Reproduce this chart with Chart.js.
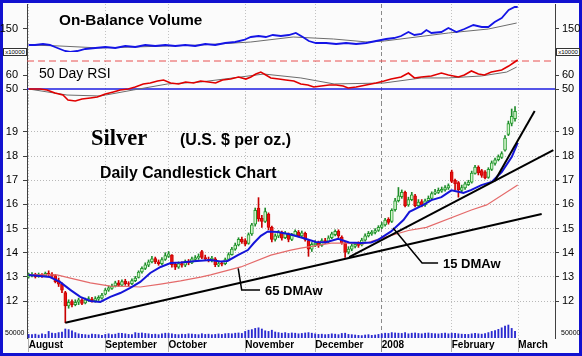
<!DOCTYPE html>
<html><head><meta charset="utf-8">
<script src="https://cdn.jsdelivr.net/npm/chart.js"></script>
<style>
html,body{margin:0;padding:0;}
body{width:582px;height:356px;background:#1212d0;position:relative;overflow:hidden;font-family:Arial,"Liberation Sans",sans-serif;}
#inner{position:absolute;left:3px;top:3px;width:576px;height:350px;background:#fbfbfb;}
canvas{position:absolute;left:0;}
.t{position:absolute;white-space:nowrap;color:#000;line-height:1;}
.box{position:absolute;border:1px solid #333;background:#fff;font-size:6px;line-height:6px;height:6px;width:22px;text-align:center;color:#000;}
</style></head><body>
<div id="inner"></div>
<canvas id="cObv" width="582" height="48" style="top:4px"></canvas>
<canvas id="cRsi" width="582" height="52" style="top:52px"></canvas>
<canvas id="cPrice" width="582" height="257" style="top:95px"></canvas>

<div class="t" style="left:59px;top:12px;font-size:15.3px;font-weight:bold;">On-Balance Volume</div>
<div class="t" style="left:39px;top:66px;font-size:14px;">50 Day RSI</div>
<div class="t" style="left:91px;top:127px;font-size:22.5px;font-weight:bold;font-family:'Liberation Serif','Times New Roman',serif;">Silver</div>
<div class="t" style="left:180px;top:132px;font-size:16px;font-weight:bold;">(U.S. $ per oz.)</div>
<div class="t" style="left:100px;top:165px;font-size:15.8px;font-weight:bold;">Daily Candlestick Chart</div>
<div class="t" style="left:265px;top:284px;font-size:13px;font-weight:bold;">65 DMAw</div>
<div class="t" style="left:443px;top:257px;font-size:13px;font-weight:bold;">15 DMAw</div>
<div class="box" style="left:3px;top:48px;">x10000</div>
<div class="box" style="left:556px;top:48px;">x10000</div>
<div class="t" style="left:5px;top:329px;font-size:7px;">50000</div>
<div class="t" style="left:561px;top:329px;font-size:7px;">50000</div>

<script>
// ---------- data ----------
const monthStarts = [0, 23, 42, 65, 86, 106, 127, 147];
const monthLabels = ['August','September','October','November','December','2008','February','March'];

const opens = [13.00,13.05,13.10,13.02,13.10,13.05,13.15,13.10,13.05,12.85,
12.70,12.35,11.80,11.98,11.85,11.95,12.05,11.92,12.02,12.08,
12.00,12.08,12.12,12.28,12.45,12.52,12.62,12.75,12.66,12.82,
12.72,12.72,12.84,12.98,13.20,13.35,13.48,13.62,13.76,13.62,
13.55,13.72,13.85,13.90,13.52,13.40,13.55,13.48,13.62,13.58,
13.72,13.78,14.05,13.80,13.74,13.70,13.75,13.48,13.56,13.55,
13.72,13.92,14.15,14.32,14.55,14.50,14.38,14.78,15.18,15.85,
15.42,15.30,15.60,15.05,14.55,14.68,14.85,14.62,14.78,14.55,
14.72,14.85,14.70,14.80,14.50,14.15,14.32,14.42,14.30,14.50,
14.45,14.62,14.75,14.90,14.65,14.40,14.02,14.15,14.26,14.38,
14.32,14.52,14.70,14.78,14.84,14.92,15.05,15.15,15.38,15.30,
15.78,16.15,16.32,16.50,15.98,16.20,16.35,15.95,16.12,15.98,
16.15,16.25,16.45,16.50,16.55,16.60,16.68,17.35,17.00,16.90,
16.58,16.68,16.82,16.92,17.28,17.55,17.40,17.35,17.12,17.45,
17.70,17.85,17.95,18.25,18.90,19.35,19.55];

const highs = [13.15,13.18,13.15,13.16,13.14,13.20,13.25,13.18,13.10,12.95,
12.75,12.40,12.05,12.05,12.05,12.12,12.10,12.12,12.18,12.15,
12.18,12.22,12.32,12.52,12.62,12.70,12.82,12.85,12.88,12.90,
12.80,12.92,13.02,13.25,13.42,13.58,13.70,13.85,13.82,13.70,
13.80,14.00,14.05,13.92,13.58,13.62,13.62,13.70,13.72,13.82,
13.88,13.95,14.10,13.90,13.82,13.85,13.80,13.65,13.62,13.78,
14.00,14.22,14.40,14.62,14.65,14.58,14.82,15.22,15.85,16.28,
15.55,15.85,15.65,15.10,14.78,14.92,14.90,14.88,14.82,14.80,
14.95,14.92,14.90,14.85,14.55,14.42,14.50,14.48,14.58,14.60,
14.70,14.85,14.95,14.95,14.70,14.45,14.25,14.35,14.42,14.45,
14.60,14.78,14.88,14.92,15.00,15.12,15.25,15.42,15.45,15.82,
16.25,16.70,16.60,16.55,16.30,16.50,16.42,16.20,16.20,16.22,
16.35,16.52,16.62,16.68,16.72,16.78,16.85,17.42,17.05,16.95,
16.80,16.92,17.00,17.38,17.62,17.60,17.45,17.40,17.52,17.80,
17.92,18.05,18.18,18.85,19.45,19.95,20.05];

const lows = [12.95,13.00,12.95,12.98,12.98,13.02,13.05,12.98,12.75,12.60,
12.35,11.10,11.70,11.75,11.80,11.85,11.85,11.88,11.98,11.95,
11.95,12.02,12.08,12.25,12.40,12.48,12.58,12.60,12.62,12.65,
12.62,12.68,12.80,12.95,13.15,13.30,13.42,13.58,13.55,13.48,
13.50,13.68,13.80,13.40,13.30,13.35,13.40,13.42,13.50,13.55,
13.66,13.72,13.75,13.68,13.62,13.62,13.42,13.42,13.45,13.50,
13.68,13.90,14.10,14.28,14.38,14.28,14.35,14.72,15.10,15.30,
15.05,15.25,14.95,14.45,14.48,14.62,14.52,14.58,14.45,14.50,
14.68,14.65,14.62,14.48,13.85,14.05,14.25,14.22,14.26,14.38,
14.40,14.58,14.70,14.62,14.35,13.80,13.95,14.08,14.20,14.22,
14.28,14.48,14.65,14.72,14.78,14.88,15.00,15.10,15.18,15.25,
15.72,16.10,16.25,15.90,15.92,16.15,15.90,15.88,15.90,15.92,
16.10,16.20,16.40,16.45,16.50,16.55,16.62,16.90,16.60,16.30,
16.50,16.62,16.78,16.88,17.25,17.22,17.12,17.05,17.08,17.40,
17.62,17.80,17.90,18.20,18.85,19.25,19.45];

const closes = [13.05,13.10,13.00,13.10,13.05,13.15,13.12,13.05,12.80,12.70,
12.45,11.80,11.95,11.85,11.95,12.05,11.90,12.05,12.10,12.00,
12.10,12.15,12.25,12.45,12.55,12.62,12.75,12.65,12.80,12.72,
12.70,12.85,12.95,13.20,13.35,13.50,13.62,13.75,13.62,13.55,
13.72,13.88,13.95,13.50,13.40,13.55,13.48,13.62,13.58,13.75,
13.80,13.85,13.80,13.75,13.72,13.78,13.50,13.55,13.52,13.72,
13.92,14.15,14.32,14.55,14.45,14.35,14.75,15.15,15.75,15.40,
15.30,15.70,15.05,14.55,14.70,14.85,14.60,14.80,14.55,14.72,
14.88,14.70,14.82,14.55,14.15,14.35,14.40,14.30,14.50,14.45,
14.62,14.78,14.88,14.70,14.42,14.02,14.15,14.28,14.35,14.30,
14.52,14.70,14.80,14.85,14.92,15.05,15.15,15.35,15.25,15.75,
16.15,16.35,16.50,15.95,16.20,16.40,15.95,16.10,15.98,16.15,
16.25,16.45,16.52,16.58,16.62,16.70,16.78,16.95,16.85,16.60,
16.70,16.85,16.92,17.30,17.55,17.30,17.20,17.10,17.45,17.72,
17.85,17.98,18.10,18.75,19.35,19.65,19.85];

// volume, thousands of contracts
const volumeThousands = [30,28,32,25,35,30,55,40,38,45,50,75,70,60,45,35,30,28,25,32,30,28,22,
30,35,28,32,40,38,35,30,28,45,40,42,38,35,30,32,28,35,40,
38,35,30,28,32,30,35,33,30,28,36,30,32,28,30,34,30,36,38,35,40,42,38,
55,65,70,80,85,75,60,55,65,50,45,40,45,38,42,40,35,38,42,45,40,
35,30,32,28,30,35,32,28,38,40,30,28,25,22,20,25,28,22,25,30,
35,40,38,45,42,40,38,45,35,40,42,38,35,40,42,38,36,34,38,40,35,
40,38,35,32,30,30,35,38,35,32,36,45,55,62,72,85,100,108,80,55];

// 15-day weighted moving average
const ma15Idx = [0,6.4,9.4,12.5,15.5,18.5,21.5,24.5,27.5,30.5,33.5,36.5,39.6,42.6,45.6,49.5,54.6,57.6,59.7,62.8,65.8,67.6,69.7,71.8,74.8,78.7,82.6,86.2,89.3,92.9,96.2,99.8,102.8,104.9,108.8,112.5,114.3,118.5,120.9,123.9,126.9,129,130.5,132.9,135.9,139,142,145,146.8];
const ma15Val = [13.08,12.99,12.79,12.46,12.17,12.00,11.96,12.17,12.33,12.54,12.79,13.16,13.41,13.57,13.59,13.65,13.70,13.64,13.66,13.90,14.11,14.40,14.70,14.88,14.86,14.75,14.60,14.44,14.43,14.58,14.42,14.40,14.42,14.53,14.88,15.35,15.69,15.98,16.18,16.30,16.58,16.52,16.47,16.60,16.80,16.93,17.34,17.96,18.55];
// 65-day weighted moving average
const ma65Idx = [0,8.5,12.5,18.5,24.5,30.5,33.5,39.6,45.6,51.6,54.6,63.7,72.7,78.7,81.7,90.8,96.8,100.4,105.5,114,119.4,132.9,137.5,146.8];
const ma65Val = [13.08,13.08,12.95,12.75,12.62,12.60,12.58,12.70,12.83,12.99,13.08,13.41,13.90,14.11,14.19,14.40,14.40,14.36,14.58,14.92,15.05,15.77,15.98,16.80];

// trend lines: [startIdx, startPrice, endIdx, endPrice]
const trendLines = [[11,11.10,154,15.60],[96.2,13.82,157.5,18.25],[139.9,16.97,151.9,19.87]];
// label leader lines (index, price)
const callout65Idx = [62.9,63.95,69.45], callout65Val = [13.35,12.455,12.455];
const callout15Idx = [109.4,118.1,122.9], callout15Val = [15.02,13.57,13.57];

// On-Balance Volume (x10000)
const obvIdx = [0,1.9,4.3,6.4,7.9,9.4,10.9,12.5,14.6,17,20,23,26,29,32,35,38,41,44,47,50,53,56,59,62,64.6,66.7,69,71.2,73.3,75.7,78.1,80.2,82.3,84.1,86.2,89.3,92.3,95.3,98.3,101.3,104.3,107.3,109.7,111.8,114,115.8,117.9,119.4,120.9,123.9,126,128.4,130.8,133.5,136,138,139.9,142,144.1,145.9,146.8];
const obvVal = [142,142,142.5,142,141,140,139,138.5,139,140,140.5,141,140.5,141.5,141,142,141.5,142,141.5,142,141.5,142.5,142,143,143.5,144.5,146,146.5,146,147,146.5,147,148,146,144,143,143,142.5,143,142.5,143,144,145,145.5,146.5,148.5,147,147.5,149.5,148,148.5,150.5,148.5,150,152,151,151,153.5,155.5,159.5,161,161];
const obvMaIdx = [0,9.4,21.5,51.6,66.7,79.4,91.5,101.7,106.8,126,138,146.5];
const obvMaVal = [142,141.5,140.5,142,143.5,146,145,143.5,144,148,150,153];

// 50 day RSI
const rsiIdx = [0,3.4,5.5,7.9,10.3,11.8,14,16,18.5,20.6,23,25.4,27.5,29.9,32,34.4,36.5,38.7,40.5,42.6,45,47.1,49.5,51.6,54,56.1,58.2,60.6,63,65.2,66.7,68.2,69.7,71.2,72.7,75.1,77.2,79.6,81.7,83.8,85.6,87.8,90.2,92.3,94.4,95.9,98.3,101.3,104.3,106.7,108.8,111.8,114,115.8,117.9,120.9,123.9,126,129,130.8,132.9,135,136.8,138.9,142,144.1,145.9,146.8];
const rsiVal = [50,50,49.3,47.1,45.7,42.1,41.4,42.9,43.6,44.3,46.4,47.9,49.3,50,51.4,53.6,54.3,55.7,56.4,54.3,53.6,55,54.3,55.7,55,54.3,56.4,57.1,58.6,57.1,58.6,60.7,62.1,60,57.9,57.1,56.4,55.7,53.6,52.9,51.4,52.1,52.9,52.9,52.1,50.7,51.4,52.9,54.3,55.7,57.1,58.6,61.4,57.9,58.6,59.3,61.4,60,58.6,60,62.9,60.7,60,62.1,63.6,66.4,69.3,70.7];
const rsiMaIdx = [0,11.5,21.5,31.4,41.7,51.6,63.7,70.6,81.7,91.7,106.7,117.9,126,135.9,143.5,146.5];
const rsiMaVal = [50,45.7,45,49.3,53.6,55,58.6,60.7,57.9,53.6,54.3,57.9,57.9,59.3,62.1,65.7];
const rsiLevels = [50, 70];

// ---------- helpers ----------
const X_MIN = -0.5, X_MAX = 158;
const pts = (xs, ys) => xs.map((x, i) => ({x, y: ys[i]}));
Chart.defaults.font.family = 'Arial, "Liberation Sans", sans-serif';
Chart.defaults.color = '#000';

function fix(w, h) {
  return s => {
    if (w != null) s.width = w;
    if (h != null) s.height = h;
    s.paddingTop = 0; s.paddingBottom = 0; s.paddingLeft = 0; s.paddingRight = 0;
  };
}
function xScale(show) {
  return {
    type: 'linear', min: X_MIN, max: X_MAX, offset: false, bounds: 'data',
    afterBuildTicks: s => { s.ticks = monthStarts.map(v => ({value: v})); },
    afterFit: fix(null, show ? 14 : 0),
    grid: {
      offset: false, lineWidth: 1,
      color: c => (c.tick && c.tick.value === 106) ? '#8a8a8a' : '#c2c2c2',
      drawTicks: show, tickLength: 14,
      tickColor: c => (c.tick && c.tick.value === 106) ? '#8a8a8a' : '#b0b0b0',
    },
    border: { display: false, dash: c => (c.tick && c.tick.value === 106) ? [4, 3] : [1, 2] },
    ticks: {
      display: show, autoSkip: false, maxRotation: 0, minRotation: 0, align: 'start', padding: -13,
      font: {size: 10, weight: 'bold'}, color: '#000',
      callback: (v, i) => monthLabels[i]
    }
  };
}
function yScale(pos, min, max, vals, gridOn) {
  return {
    type: 'linear', position: pos, min, max, bounds: 'data',
    afterBuildTicks: s => { s.ticks = vals.map(v => ({value: v})); },
    afterFit: fix(27, null),
    grid: { drawOnChartArea: !!gridOn, color: '#b8b8b8', drawTicks: true, tickLength: 4, tickColor: '#404040' },
    border: { display: true, color: '#404040', width: 1, dash: [1, 2] },
    ticks: { padding: pos === 'left' ? 5 : 3, font: {size: 11}, color: '#000', callback: v => String(v) }
  };
}
function baseOpts(scales) {
  return {
    responsive: false, animation: false, events: [],
    layout: {padding: 0},
    plugins: {legend: {display: false}, tooltip: {enabled: false}},
    elements: {point: {radius: 0}, line: {tension: 0}},
    scales
  };
}
const lineDs = (data, color, width, order, extra) => Object.assign({type: 'line', data, borderColor: color, borderWidth: width, pointRadius: 0, fill: false, order}, extra || {});

// ---------- OBV panel ----------
new Chart(document.getElementById('cObv'), {
  type: 'line',
  data: {datasets: [
    lineDs(pts(obvIdx, obvVal), '#1414e6', 1.8, 1),
    lineDs(pts(obvMaIdx, obvMaVal), '#6c6c6c', 1, 2)
  ]},
  options: baseOpts({x: xScale(false), y: yScale('left', 138.5, 162.5, [150]), y2: yScale('right', 138.5, 162.5, [150])})
});

// ---------- RSI panel ----------
new Chart(document.getElementById('cRsi'), {
  type: 'line',
  data: {datasets: [
    lineDs(pts(rsiIdx, rsiVal), '#e00000', 1.6, 1),
    lineDs(pts(rsiMaIdx, rsiMaVal), '#6c6c6c', 1, 2),
    lineDs(pts([X_MIN, X_MAX], [rsiLevels[0], rsiLevels[0]]), '#1c1ce0', 1.6, 3),
    lineDs(pts([X_MIN, X_MAX], [rsiLevels[1], rsiLevels[1]]), '#e85050', 1, 3, {borderDash: [7, 4]})
  ]},
  options: baseOpts({x: xScale(false), y: yScale('left', 39.29, 76.43, [50, 60]), y2: yScale('right', 39.29, 76.43, [50, 60])})
});

// ---------- Price panel ----------
const idx = closes.map((_, i) => i);
const up = i => closes[i] >= opens[i];
const priceScales = {
  x: xScale(true),
  y: yScale('left', 10.468, 20.53, [12, 13, 14, 15, 16, 17, 18, 19], true),
  y2: yScale('right', 10.468, 20.53, [12, 13, 14, 15, 16, 17, 18, 19], false),
  yv: {type: 'linear', display: false, min: 0, max: 2025}
};
const datasets = [
  {type: 'bar', data: idx.map(i => ({x: i, y: volumeThousands[i]})), yAxisID: 'yv', backgroundColor: '#2a2ad0', barThickness: 1.2, grouped: false, order: 9},
  {type: 'bar', data: idx.map(i => ({x: i, y: [lows[i], highs[i]]})), backgroundColor: c => up(c.dataIndex) ? '#1f8a2a' : '#c80000', barThickness: 1, grouped: false, order: 8},
  {type: 'bar', data: idx.map(i => ({x: i, y: [opens[i], closes[i]]})), backgroundColor: c => up(c.dataIndex) ? '#d4f4cc' : '#e41414', borderColor: c => up(c.dataIndex) ? '#249a2e' : '#d00000', borderWidth: 1, borderSkipped: false, barThickness: 3, grouped: false, order: 7},
  lineDs(pts(ma65Idx, ma65Val), '#e46a6a', 1.2, 6),
  lineDs(pts(ma15Idx, ma15Val), '#1414d8', 2, 5)
];
trendLines.forEach(t => datasets.push(lineDs(pts([t[0], t[2]], [t[1], t[3]]), '#000', 2, 3)));
datasets.push(lineDs(pts(callout65Idx, callout65Val), '#000', 1.5, 2));
datasets.push(lineDs(pts(callout15Idx, callout15Val), '#000', 1.5, 2));

new Chart(document.getElementById('cPrice'), {
  type: 'line',
  data: {datasets},
  options: baseOpts(priceScales)
});
</script>
</body></html>
